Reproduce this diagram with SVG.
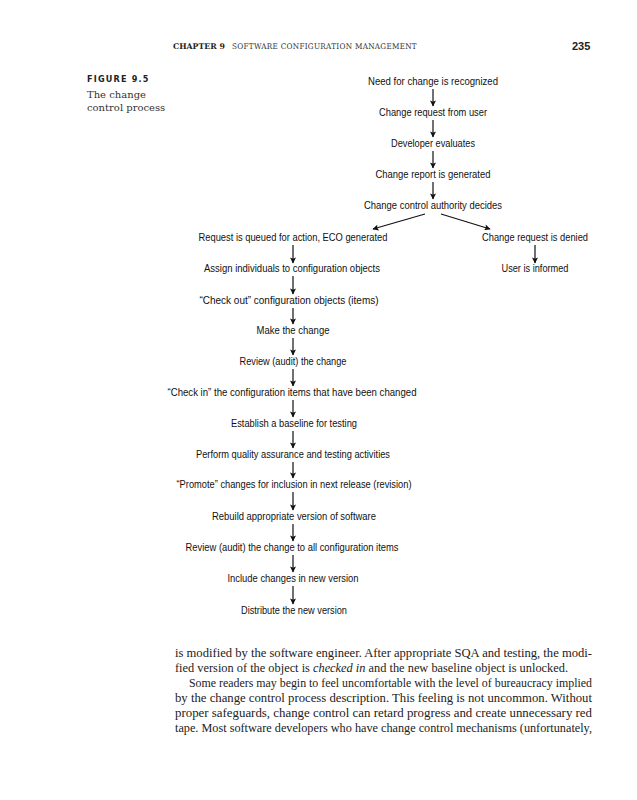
<svg xmlns="http://www.w3.org/2000/svg" width="637" height="800" viewBox="0 0 637 800">
<style>
.hdr{font-family:"DejaVu Serif","Liberation Serif",serif;font-size:7.8px;fill:#333;letter-spacing:0.3px}
.hdrb{font-family:"DejaVu Serif","Liberation Serif",serif;font-size:7.8px;font-weight:bold;fill:#222}
.pg{font-family:"Liberation Sans",sans-serif;font-size:11px;font-weight:bold;fill:#222}
.figl{font-family:"DejaVu Sans Condensed","DejaVu Sans",sans-serif;font-size:9px;font-weight:bold;fill:#222;letter-spacing:1.2px}
.cap{font-family:"DejaVu Serif","Liberation Serif",serif;font-size:10px;fill:#333}
.n{font-family:"Liberation Sans",Arial,sans-serif;font-size:10.3px;fill:#111;text-anchor:middle}
.body{font-family:"Liberation Serif","Times New Roman",serif;font-size:12.6px;fill:#222}
.c line{stroke:#111;stroke-width:1.2}
</style>
<defs>
<marker id="ah" viewBox="0 0 10 10" refX="9" refY="5" markerWidth="7" markerHeight="6" markerUnits="userSpaceOnUse" orient="auto">
<path d="M0,0 L10,5 L0,10 L2,5 z" fill="#111"/>
</marker>
</defs>
<rect width="637" height="800" fill="#fff"/>
<g id="header">
<text class="hdrb" x="173" y="49">CHAPTER 9</text>
<text class="hdr" x="232" y="49" textLength="185" lengthAdjust="spacingAndGlyphs">SOFTWARE CONFIGURATION MANAGEMENT</text>
<text class="pg" x="572" y="50">235</text>
</g>
<g id="caption">
<text class="figl" x="87" y="82">FIGURE 9.5</text>
<text class="cap" x="87" y="98">The change</text>
<text class="cap" x="87" y="111">control process</text>
</g>
<g id="n1"><text class="n" x="433" y="85" textLength="130" lengthAdjust="spacingAndGlyphs">Need for change is recognized</text></g>
<g id="n2"><text class="n" x="433" y="116" textLength="108" lengthAdjust="spacingAndGlyphs">Change request from user</text></g>
<g id="n3"><text class="n" x="433" y="147" textLength="84" lengthAdjust="spacingAndGlyphs">Developer evaluates</text></g>
<g id="n4"><text class="n" x="433" y="178" textLength="115" lengthAdjust="spacingAndGlyphs">Change report is generated</text></g>
<g id="n5"><text class="n" x="433" y="209" textLength="138" lengthAdjust="spacingAndGlyphs">Change control authority decides</text></g>
<g id="n6"><text class="n" x="293" y="241" textLength="189" lengthAdjust="spacingAndGlyphs">Request is queued for action, ECO generated</text></g>
<g id="n7"><text class="n" x="535" y="241" textLength="106" lengthAdjust="spacingAndGlyphs">Change request is denied</text></g>
<g id="n8"><text class="n" x="535" y="272" textLength="67" lengthAdjust="spacingAndGlyphs">User is informed</text></g>
<g id="n9"><text class="n" x="292" y="272" textLength="176" lengthAdjust="spacingAndGlyphs">Assign individuals to configuration objects</text></g>
<g id="n10"><text class="n" x="289" y="304" textLength="179" lengthAdjust="spacingAndGlyphs">“Check out” configuration objects (items)</text></g>
<g id="n11"><text class="n" x="293" y="334" textLength="73" lengthAdjust="spacingAndGlyphs">Make the change</text></g>
<g id="n12"><text class="n" x="293" y="365" textLength="107" lengthAdjust="spacingAndGlyphs">Review (audit) the change</text></g>
<g id="n13"><text class="n" x="292" y="396" textLength="249" lengthAdjust="spacingAndGlyphs">“Check in” the configuration items that have been changed</text></g>
<g id="n14"><text class="n" x="294" y="427" textLength="126" lengthAdjust="spacingAndGlyphs">Establish a baseline for testing</text></g>
<g id="n15"><text class="n" x="293" y="458" textLength="194" lengthAdjust="spacingAndGlyphs">Perform quality assurance and testing activities</text></g>
<g id="n16"><text class="n" x="294" y="488" textLength="235" lengthAdjust="spacingAndGlyphs">“Promote” changes for inclusion in next release (revision)</text></g>
<g id="n17"><text class="n" x="294" y="520" textLength="164" lengthAdjust="spacingAndGlyphs">Rebuild appropriate version of software</text></g>
<g id="n18"><text class="n" x="292" y="551" textLength="213" lengthAdjust="spacingAndGlyphs">Review (audit) the change to all configuration items</text></g>
<g id="n19"><text class="n" x="293" y="582" textLength="131" lengthAdjust="spacingAndGlyphs">Include changes in new version</text></g>
<g id="n20"><text class="n" x="294" y="614" textLength="106" lengthAdjust="spacingAndGlyphs">Distribute the new version</text></g>
<g id="connectors" class="c">
<line x1="433" y1="89" x2="433" y2="106" marker-end="url(#ah)"/>
<line x1="433" y1="120" x2="433" y2="137" marker-end="url(#ah)"/>
<line x1="433" y1="151" x2="433" y2="168" marker-end="url(#ah)"/>
<line x1="433" y1="182" x2="433" y2="199" marker-end="url(#ah)"/>
<line x1="425" y1="214" x2="373" y2="229" marker-end="url(#ah)"/>
<line x1="441" y1="214" x2="490" y2="229" marker-end="url(#ah)"/>
<line x1="535" y1="245" x2="535" y2="263" marker-end="url(#ah)"/>
<line x1="293" y1="245" x2="293" y2="263" marker-end="url(#ah)"/>
<line x1="293" y1="276" x2="293" y2="294" marker-end="url(#ah)"/>
<line x1="293" y1="308" x2="293" y2="324" marker-end="url(#ah)"/>
<line x1="293" y1="338" x2="293" y2="355" marker-end="url(#ah)"/>
<line x1="293" y1="369" x2="293" y2="386" marker-end="url(#ah)"/>
<line x1="293" y1="400" x2="293" y2="417" marker-end="url(#ah)"/>
<line x1="293" y1="431" x2="293" y2="448" marker-end="url(#ah)"/>
<line x1="293" y1="462" x2="293" y2="478" marker-end="url(#ah)"/>
<line x1="293" y1="492" x2="293" y2="510" marker-end="url(#ah)"/>
<line x1="293" y1="524" x2="293" y2="541" marker-end="url(#ah)"/>
<line x1="293" y1="555" x2="293" y2="572" marker-end="url(#ah)"/>
<line x1="293" y1="586" x2="293" y2="604" marker-end="url(#ah)"/>
</g>
<g id="bodytext">
<text class="body" x="175" y="657" textLength="417" lengthAdjust="spacingAndGlyphs">is modified by the software engineer. After appropriate SQA and testing, the modi-</text>
<text class="body" x="175" y="672" textLength="393" lengthAdjust="spacingAndGlyphs">fied version of the object is <tspan font-style="italic">checked in</tspan> and the new baseline object is unlocked.</text>
<text class="body" x="189" y="687" textLength="403" lengthAdjust="spacingAndGlyphs">Some readers may begin to feel uncomfortable with the level of bureaucracy implied</text>
<text class="body" x="175" y="702" textLength="417" lengthAdjust="spacingAndGlyphs">by the change control process description. This feeling is not uncommon. Without</text>
<text class="body" x="175" y="717" textLength="417" lengthAdjust="spacingAndGlyphs">proper safeguards, change control can retard progress and create unnecessary red</text>
<text class="body" x="175" y="732" textLength="417" lengthAdjust="spacingAndGlyphs">tape. Most software developers who have change control mechanisms (unfortunately,</text>
</g>
</svg>
